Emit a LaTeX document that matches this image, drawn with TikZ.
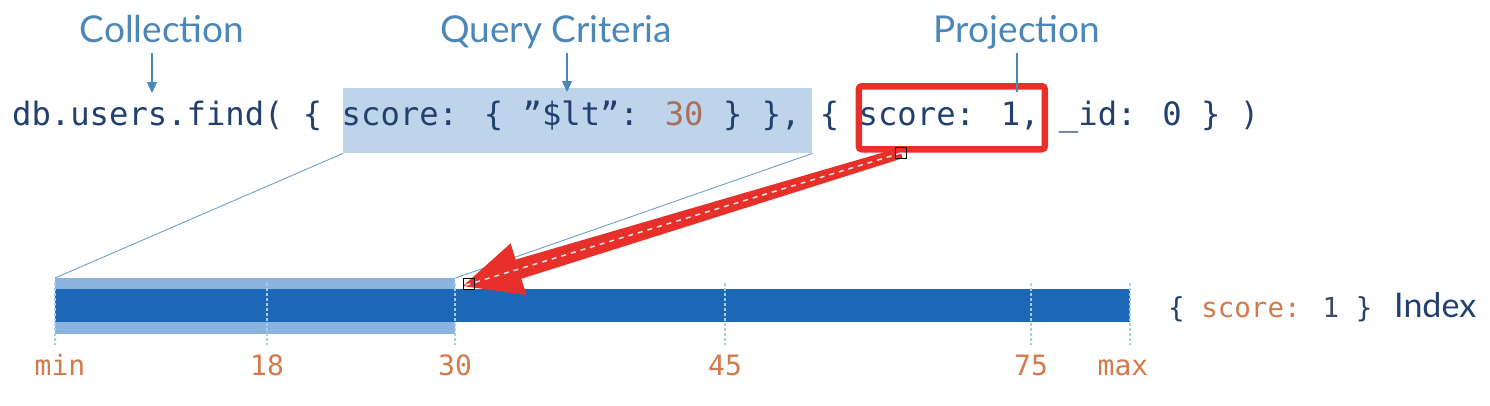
\documentclass[tikz,border=0pt]{standalone}
\usepackage{fontspec}
\usetikzlibrary{calc,arrows.meta}
\newfontfamily\monofam{DejaVu Sans Mono}
\newfontfamily\humfam{Lato}
\definecolor{labelblue}{HTML}{4C87B9}
\definecolor{navy}{HTML}{22406E}
\definecolor{hlblue}{HTML}{BED4EB}
\definecolor{bardark}{HTML}{1C68B6}
\definecolor{barlight}{HTML}{8AB3DE}
\definecolor{tickorange}{HTML}{D27A4C}
\definecolor{codebrown}{HTML}{A8705C}
\definecolor{projred}{HTML}{E8302A}
\definecolor{tickblue}{HTML}{A8CBEE}
\definecolor{onegray}{HTML}{3C4A62}
\tikzset{
  lbl/.style={font=\humfam\fontsize{37}{42}\selectfont, text=labelblue, inner sep=0, anchor=base},
  lblarrow/.style={labelblue, line width=1.3pt, -{Triangle[length=11pt,width=10pt]}},
  ticklbl/.style={font=\monofam\fontsize{28}{32}\selectfont, text=tickorange, inner sep=0, anchor=base},
  tickline/.style={tickblue, line width=1.3pt, dash pattern=on 2.5pt off 2.5pt},
  guide/.style={labelblue!80, line width=0.9pt},
  handle/.style={draw=black, line width=1.5pt, minimum size=11pt, inner sep=0}
}
\begin{document}
\begin{tikzpicture}[x=1pt,y=-1pt]
\useasboundingbox (0,0) rectangle (1490,405);
\fill[white] (0,0) rectangle (1490,405);

% highlight behind query criteria
\node[fill=hlblue, inner sep=0, minimum width=469pt, minimum height=65pt, anchor=north west] (hl) at (343,88) {};

% code line
\node[anchor=base west, inner sep=0, text=navy, font=\monofam\fontsize{32.2}{36}\selectfont] (code) at (12,125)
  {db.users.find( \{ score: \{ ”\$lt”: \textcolor{codebrown}{30} \} \}, \{ score: 1, \_id: 0 \} )};

% projection red box
\node[draw=projred, line width=6.5pt, rounded corners=3pt, inner sep=0, minimum width=186pt, minimum height=63pt, anchor=north west] (proj) at (855.5,83) {};

% top labels
\node[lbl] (coll) at (162,42) {Collection};
\node[lbl] (qc) at (556,42) {Query Criteria};
\node[lbl] (pj) at (1017,42) {Projection};
\coordinate (collA) at (152,53); \coordinate (collB) at (152,93);
\coordinate (qcA) at (567,53); \coordinate (qcB) at (567,92);
\coordinate (pjA) at (1017,53); \coordinate (pjB) at (1017,92);
\draw[lblarrow] (collA) -- (collB);
\draw[lblarrow] (qcA) -- (qcB);
\draw[labelblue, line width=1.3pt] (pjA) -- (pjB);

% index bar
\node[fill=barlight, inner sep=0, minimum width=400pt, minimum height=56pt, anchor=north west] (rng) at (55,278) {};
\node[fill=bardark, inner sep=0, minimum width=1075pt, minimum height=33pt, anchor=north west] (bar) at (55,289) {};

% guide lines
\draw[guide] (hl.south west) -- (rng.north west);
\draw[guide] (hl.south east) -- (rng.north east);

% ticks
\foreach \x/\t/\lx in {55/min/60, 267/18/267, 455/30/455, 725/45/725, 1031/75/1031, 1130/max/1123}{
  \draw[tickline] (\x,283) -- (\x,345);
  \node[ticklbl] at (\lx,375) {\t};
}

% index label
\node[anchor=base west, inner sep=0, font=\monofam\fontsize{27.5}{30}\selectfont] (idx) at (1168,317)
  {\textcolor{navy}{\{} \textcolor{tickorange}{score:} \textcolor{onegray}{1} \textcolor{navy}{\}}};
\node[anchor=base west, inner sep=0, font=\humfam\fontsize{34}{38}\selectfont, text=navy] (idxw) at (1394,317) {Index};

% red arrow
\coordinate (T) at (901,153);
\coordinate (P) at (463,286);
\coordinate (B) at ($(P)!58pt!(T)$);
\fill[projred]
  ($(T)!5.5pt!90:(P)$) -- ($(B)!10pt!-90:(T)$) -- ($(B)!27pt!-90:(T)$) -- (P)
  -- ($(B)!27pt!90:(T)$) -- ($(B)!10pt!90:(T)$) -- ($(T)!5.5pt!-90:(P)$) -- cycle;
\draw[white!80!gray, line width=1.5pt, dash pattern=on 5pt off 5pt] (T) -- (P);
\node[handle] (hT) at (T) {};
\node[handle] (hP) at (469,284) {};
\end{tikzpicture}
\end{document}
